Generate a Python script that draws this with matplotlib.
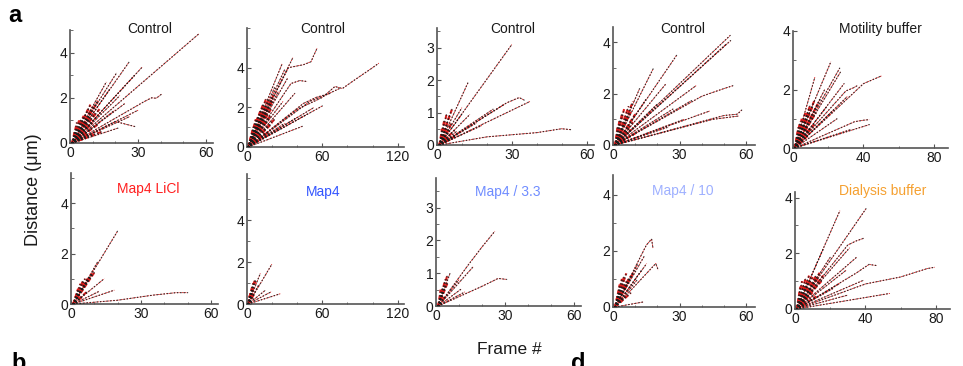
import matplotlib
matplotlib.use("Agg")
import matplotlib.pyplot as plt
from matplotlib.ticker import MultipleLocator

plt.rcParams["font.family"] = ["Liberation Sans", "DejaVu Sans"]

W, H = 963, 366

# ---- data: tracks as (frame, distance) vertices after the common start ----
START = (1, 0.0)

CTRL1_LONG = [
    [(57, 4.85)], [(26, 3.58)], [(32, 3.38)], [(20.5, 3.1)], [(28.5, 3.0)],
    [(33, 1.85), (36, 2.0), (38, 1.98), (40.3, 2.16)], [(17.6, 2.4)],
    [(12.4, 1.9)], [(26.3, 1.17)], [(20, 0.95), (28.5, 0.73)], [(21.2, 0.66)],
    [(19.8, 1.46)], [(13.2, 1.31)], [(24.2, 1.75)], [(22, 2.1)], [(16, 2.7)],
    [(30, 1.45)],
]
CTRL1_SHORT_F = [3, 4, 4, 5, 5, 6, 6, 7, 7, 8, 8, 9, 9, 10, 10, 11, 12, 12,
                 13, 3, 4, 6, 8, 10, 14, 2, 3, 5, 6, 9]
CTRL1_SHORT_D = [0.9, 1.0, 0.6, 1.1, 0.4, 0.9, 1.2, 0.7, 1.3, 1.0, 1.5, 1.2,
                 0.6, 1.6, 0.9, 1.3, 1.8, 0.8, 1.5, 0.3, 0.2, 0.5, 0.4, 0.35,
                 0.5, 0.5, 0.7, 0.7, 0.25, 1.7]

CTRL2_LONG = [
    [(40, 1.9), (60, 2.5), (70, 3.05), (76, 2.95), (85, 3.35), (100, 4.0), (105, 4.23)],
    [(33, 4.0), (45, 4.15), (51, 4.3), (53, 4.6), (56, 5.0)],
    [(36.5, 4.5)], [(35, 3.2), (42, 3.35), (48, 3.3)], [(44, 1.04)],
    [(32.6, 3.5)], [(28.7, 2.3)], [(60, 2.07)],
    [(50, 2.3), (62, 2.6), (74, 2.96)], [(53.5, 2.0)], [(48, 1.66)],
    [(25, 2.8)], [(30, 3.9)], [(38, 2.7)], [(22, 3.0)],
    [(45, 2.2), (55, 2.5), (66, 2.7)], [(40, 1.5)], [(30, 1.2)], [(28, 4.2)],
]
CTRL2_SHORT_F = [4, 5, 6, 7, 8, 9, 10, 11, 12, 13, 14, 15, 16, 17, 18, 19, 20,
                 6, 8, 10, 12, 14, 16, 18, 20, 22, 5, 7, 9, 11, 13, 15, 17, 19, 21]
CTRL2_SHORT_D = [0.6, 1.0, 0.8, 1.4, 1.2, 1.6, 1.0, 1.9, 1.5, 2.2, 1.3, 2.4,
                 1.8, 2.0, 2.5, 1.6, 2.3, 0.3, 0.5, 0.6, 0.9, 0.7, 1.0, 0.8,
                 1.2, 1.4, 0.4, 0.6, 1.1, 1.3, 1.7, 2.1, 1.4, 1.9, 2.6]

CTRL3_LONG = [
    [(30, 3.09)], [(12.5, 1.93)], [(28, 1.3), (33, 1.46), (35, 1.38)],
    [(37.6, 1.35)], [(20, 0.25), (40, 0.38), (50, 0.5), (54, 0.47)],
    [(27, 1.25)], [(22.5, 1.1)], [(15.9, 0.68)], [(13.2, 0.94)],
    [(9.9, 0.94)], [(7.9, 0.42)], [(18, 0.6)], [(10, 1.15)],
]
CTRL3_SHORT_F = [2, 3, 3, 4, 4, 5, 5, 6, 6, 3, 4, 5, 2, 7, 8, 6]
CTRL3_SHORT_D = [0.5, 0.8, 0.4, 1.0, 0.6, 0.9, 0.3, 1.1, 0.7, 0.2, 0.35, 0.5,
                 0.25, 0.45, 0.3, 0.2]

CTRL4_LONG = [
    [(52.8, 4.27)], [(53, 4.07)], [(51, 3.93)], [(28.7, 3.5)], [(18.1, 2.97)],
    [(40, 1.9), (50, 2.2), (54, 2.31)], [(35.4, 1.73)],
    [(50, 1.15), (56, 1.2), (58, 1.36)], [(45, 1.0), (56.6, 1.13)],
    [(27, 1.4)], [(43.7, 1.33)], [(15, 1.8)], [(24, 2.4)], [(37.7, 2.33)],
    [(32, 1.0)], [(25, 0.7)], [(20, 1.6)], [(12, 2.2)],
]
CTRL4_SHORT_F = [3, 4, 5, 5, 6, 7, 7, 8, 9, 10, 3, 4, 6, 8, 10, 5, 2, 9]
CTRL4_SHORT_D = [1.0, 1.2, 0.8, 1.4, 1.1, 1.5, 0.6, 1.3, 1.7, 1.2, 0.4, 0.5,
                 0.3, 0.6, 0.45, 0.2, 0.7, 0.9]

MOT_LONG = [
    [(21.5, 2.95)], [(26.5, 2.73)], [(27, 2.6)], [(40, 2.2), (50.4, 2.47)],
    [(30, 1.95), (34, 2.05), (36.5, 2.13)], [(29, 2.2)],
    [(35, 0.9), (40, 0.95), (43.3, 0.97)], [(43.3, 0.8)], [(32.7, 0.63)],
    [(23, 1.3)], [(15.4, 1.65)], [(19, 1.4)], [(30.8, 1.76)], [(12.5, 2.44)],
    [(18, 2.0)], [(25, 1.0)],
]
MOT_SHORT_F = [3, 4, 5, 6, 7, 8, 9, 10, 11, 12, 13, 14, 4, 6, 8, 10, 12, 5, 7, 9]
MOT_SHORT_D = [0.7, 0.9, 1.0, 0.8, 1.2, 1.1, 1.3, 1.5, 1.4, 1.6, 1.2, 1.5,
               0.4, 0.5, 0.6, 0.7, 0.8, 0.25, 0.35, 0.45]

LICL_LONG = [
    [(20, 2.9)], [(11.4, 1.67)], [(14.3, 1.01)], [(18.6, 0.55)],
    [(20, 0.15), (35, 0.35), (45, 0.45), (50, 0.45)], [(9.3, 1.2)], [(12, 0.5)],
]
LICL_SHORT_F = [2, 3, 3, 4, 4, 5, 5, 6, 6, 7, 8, 9, 10, 3, 5, 7]
LICL_SHORT_D = [0.3, 0.4, 0.6, 0.5, 0.8, 0.7, 0.9, 0.8, 1.0, 1.0, 1.1, 1.2,
                1.25, 0.2, 0.3, 0.5]

MAP4_LONG = [[(19.8, 1.9)], [(10.6, 1.46)], [(26.5, 0.49)], [(19.8, 0.6)],
             [(14.5, 0.65)], [(9.3, 0.91)]]
MAP4_SHORT_F = [2, 3, 3, 4, 4, 5, 5, 6, 6, 7, 3, 5]
MAP4_SHORT_D = [0.4, 0.6, 0.3, 0.8, 0.5, 1.0, 0.7, 1.1, 0.5, 1.15, 0.15, 0.25]

MAP4_33_LONG = [
    [(14, 1.25), (20, 1.8), (25.6, 2.28)], [(20, 0.6), (27, 0.84), (30.7, 0.81)],
    [(16.2, 1.2)], [(11.2, 0.53)], [(12.6, 0.43)], [(6.1, 1.0)], [(10, 0.8)],
]
MAP4_33_SHORT_F = [2, 2, 3, 3, 4, 4, 5, 5, 3, 4]
MAP4_33_SHORT_D = [0.3, 0.5, 0.6, 0.4, 0.8, 0.6, 0.95, 0.7, 0.2, 0.3]

MAP4_10_LONG = [
    [(15, 2.2), (17.4, 2.42), (18, 2.1)], [(19.3, 1.55), (20.4, 1.31)],
    [(13.7, 0.18)], [(15.2, 1.55)], [(12.9, 1.31)], [(10.7, 0.95)],
    [(14, 1.8)], [(11, 1.5)],
]
MAP4_10_SHORT_F = [2, 3, 3, 4, 4, 5, 5, 6, 6, 7, 8, 9, 4, 6, 8]
MAP4_10_SHORT_D = [0.4, 0.6, 0.8, 0.7, 1.0, 0.8, 1.1, 0.9, 1.2, 1.0, 1.1, 1.2,
                   0.3, 0.4, 0.5]

DIAL_LONG = [
    [(25.5, 3.53)], [(40.3, 3.6)], [(30, 2.3), (35, 2.45), (39, 2.54)],
    [(35, 1.3), (42, 1.6), (46.3, 1.56)],
    [(40, 0.9), (60, 1.15), (75, 1.45), (79.4, 1.5)], [(53.9, 0.56)],
    [(31, 2.2)], [(35, 1.86)], [(29, 1.39)], [(25.5, 0.92)], [(21.7, 0.74)],
    [(38.8, 1.03)], [(20, 1.86)], [(16, 2.15)], [(30, 0.5)],
]
DIAL_SHORT_F = [3, 4, 5, 6, 7, 8, 9, 10, 11, 12, 13, 14, 15, 16, 4, 6, 8, 10, 12]
DIAL_SHORT_D = [0.8, 1.0, 0.9, 1.1, 1.0, 1.2, 1.1, 1.15, 1.0, 1.2, 1.1, 1.3,
                1.0, 1.2, 0.3, 0.4, 0.5, 0.6, 0.45]

TITLES = ["Control", "Control", "Control", "Control", "Motility buffer",
          "Map4 LiCl", "Map4", "Map4 / 3.3", "Map4 / 10", "Dialysis buffer"]
TITLE_COLORS = ["#1a1a1a"] * 5 + ["#ff2020", "#3355ff", "#6f8cff", "#9eb0ff", "#f5a030"]
X_TICKS = [[0, 30, 60], [0, 60, 120], [0, 30, 60], [0, 30, 60], [0, 40, 80],
           [0, 30, 60], [0, 60, 120], [0, 30, 60], [0, 30, 60], [0, 40, 80]]
Y_TICKS = [[0, 2, 4], [0, 2, 4], [0, 1, 2, 3], [0, 2, 4], [0, 2, 4],
           [0, 2, 4], [0, 2, 4], [0, 1, 2, 3], [0, 2, 4], [0, 2, 4]]

PANELS = [
    (CTRL1_LONG, CTRL1_SHORT_F, CTRL1_SHORT_D),
    (CTRL2_LONG, CTRL2_SHORT_F, CTRL2_SHORT_D),
    (CTRL3_LONG, CTRL3_SHORT_F, CTRL3_SHORT_D),
    (CTRL4_LONG, CTRL4_SHORT_F, CTRL4_SHORT_D),
    (MOT_LONG, MOT_SHORT_F, MOT_SHORT_D),
    (LICL_LONG, LICL_SHORT_F, LICL_SHORT_D),
    (MAP4_LONG, MAP4_SHORT_F, MAP4_SHORT_D),
    (MAP4_33_LONG, MAP4_33_SHORT_F, MAP4_33_SHORT_D),
    (MAP4_10_LONG, MAP4_10_SHORT_F, MAP4_10_SHORT_D),
    (DIAL_LONG, DIAL_SHORT_F, DIAL_SHORT_D),
]

# layout in pixels: (x0, y_axis, x1, y_top), limits, title position, minor steps
LAYOUT = [
    ((70, 143, 213, 30), (63, 5.0), (150, 29), (10, 1)),
    ((247, 147, 404, 28), (125, 6.0), (323, 29), (20, 1)),
    ((437, 145, 594, 28), (63, 3.6), (513, 29), (10, 0.5)),
    ((613, 145, 755, 27), (64, 4.6), (683, 29), (10, 1)),
    ((793, 148, 948, 31), (88, 4.0), (880, 29), (20, 1)),
    ((71, 304, 218, 173), (63, 5.2), (148, 189), (10, 1)),
    ((247, 304, 404, 174), (125, 6.2), (323, 192), (20, 1)),
    ((436, 306, 581, 178), (63, 3.9), (508, 192), (10, 0.5)),
    ((613, 307, 755, 175), (64, 4.7), (683, 191), (10, 1)),
    ((795, 309, 950, 192), (88, 4.2), (883, 191), (20, 1)),
]


def draw_track(ax, xs, ys, short=False):
    # red dashed trace with a sparse black dotted overlay
    ax.plot(xs, ys, color="#e01c1c", lw=1.5 if short else 0.6,
            dashes=(2.0, 1.2), zorder=2)
    ax.plot(xs, ys, color="#1a1a1a", lw=0.9, dashes=(0.5, 2.2),
            dash_capstyle="round", alpha=0.8, zorder=3)


def main():
    fig = plt.figure(figsize=(W / 100, H / 100), dpi=100)

    for i, (long_tracks, sf, sd) in enumerate(PANELS):
        (x0, yb, x1, yt), (xmax, ymax), (tx, ty), (xminor, yminor) = LAYOUT[i]
        ax = fig.add_axes([x0 / W, 1 - yb / H, (x1 - x0) / W, (yb - yt) / H])
        ax.set_xlim(0, xmax)
        ax.set_ylim(0, ymax)

        for tr in long_tracks:
            pts = [START] + tr
            draw_track(ax, [p[0] for p in pts], [p[1] for p in pts])
        for f, d in zip(sf, sd):
            draw_track(ax, [START[0], f], [START[1], d], short=True)

        for s in ["top", "right"]:
            ax.spines[s].set_visible(False)
        for s in ["left", "bottom"]:
            ax.spines[s].set_color("#555555")
            ax.spines[s].set_linewidth(1.2)
        ax.set_xticks(X_TICKS[i])
        ax.set_yticks(Y_TICKS[i])
        ax.xaxis.set_minor_locator(MultipleLocator(xminor))
        ax.yaxis.set_minor_locator(MultipleLocator(yminor))
        ax.tick_params(which="both", direction="in", color="#555555",
                       labelsize=10, labelcolor="#1a1a1a", pad=2)
        ax.tick_params(which="major", length=3)
        ax.tick_params(which="minor", length=1.8)
        ax.patch.set_alpha(0)

        fig.text(tx / W, 1 - ty / H, TITLES[i], ha="center", va="center",
                 fontsize=10, color=TITLE_COLORS[i])

    fig.text(509 / W, 1 - 349 / H, "Frame #", ha="center", va="center",
             fontsize=12.5, color="#1a1a1a")
    fig.text(33 / W, 1 - 190 / H, "Distance (\u03bcm)", ha="center",
             va="center", rotation=90, fontsize=13, color="#1a1a1a")

    fig.text(8 / W, 1 - 4 / H, "a", ha="left", va="top", fontsize=17,
             fontweight="bold")
    fig.text(11 / W, 1 - 352 / H, "b", ha="left", va="top", fontsize=17,
             fontweight="bold")
    fig.text(571 / W, 1 - 352 / H, "d", ha="left", va="top", fontsize=17,
             fontweight="bold")

    fig.savefig("out.png", dpi=100)
    plt.close(fig)


if __name__ == "__main__":
    main()
